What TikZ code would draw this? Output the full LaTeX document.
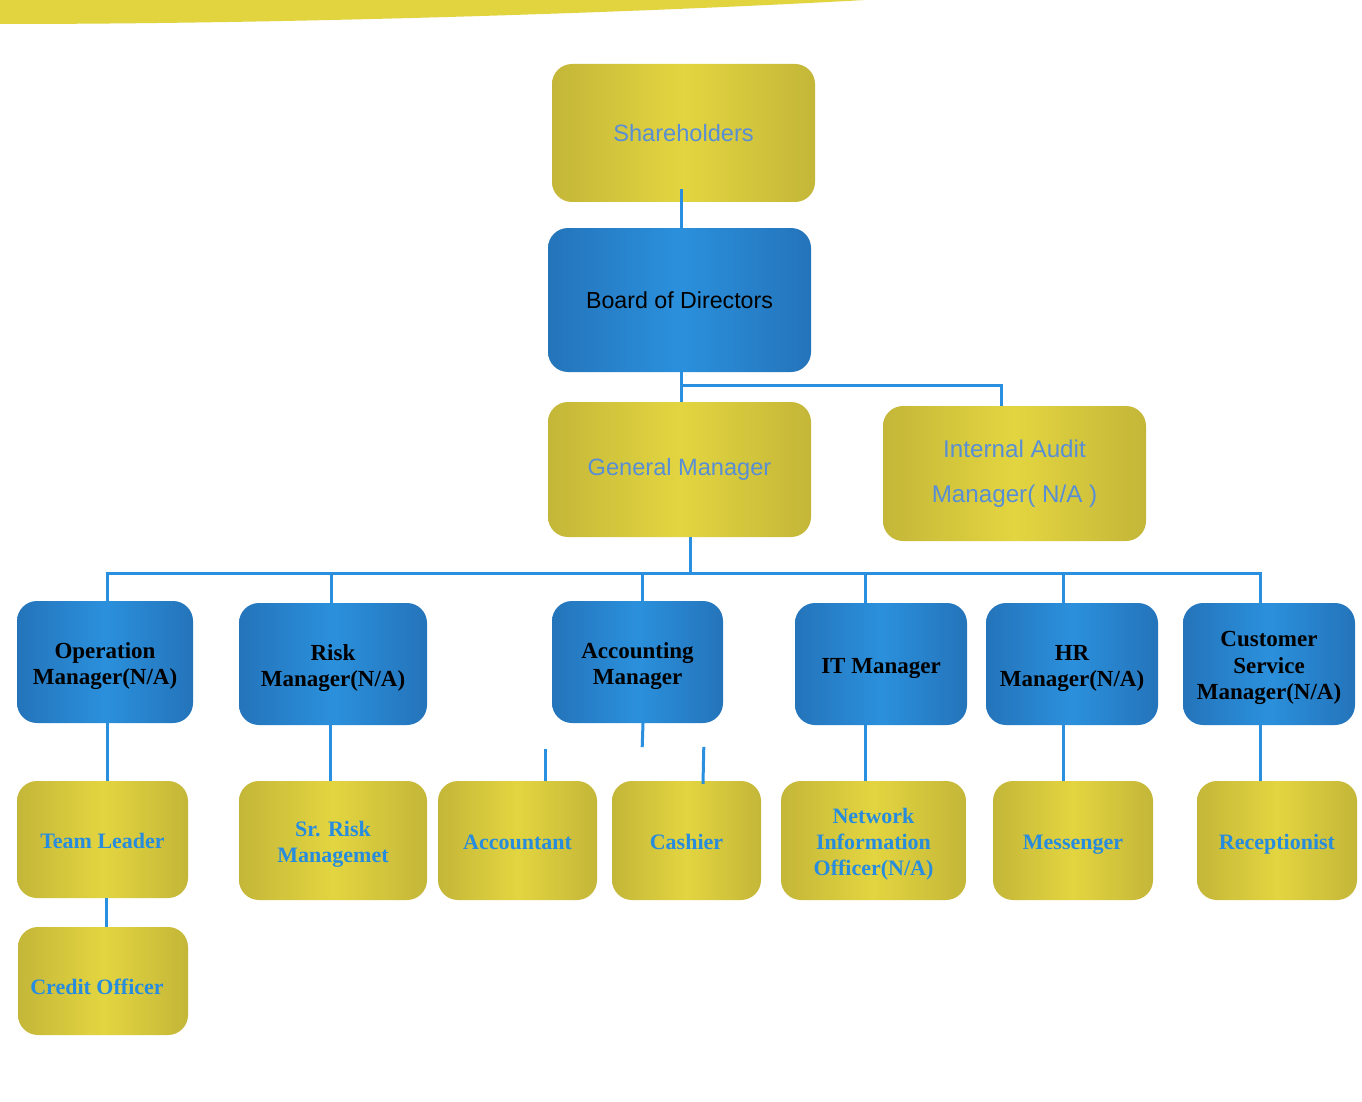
\documentclass[tikz,border=0pt]{standalone}
\usepackage{fontspec}
\setmainfont{Liberation Serif}
\setsansfont{Liberation Sans}
\definecolor{yedge}{RGB}{196,182,56}
\definecolor{ymid}{RGB}{227,213,64}
\definecolor{bedge}{RGB}{36,116,186}
\definecolor{bmid}{RGB}{43,144,220}
\definecolor{lineblue}{RGB}{42,143,222}
\definecolor{topblue}{RGB}{88,142,214}
\definecolor{lowblue}{RGB}{40,140,222}
\definecolor{arcyellow}{RGB}{225,212,62}
\newcommand{\dnlines}[2][-4pt]{\raisebox{#1}[\height][\depth]{\begin{tabular}{@{}c@{}}#2\end{tabular}}}
\begin{document}
\begin{tikzpicture}[x=1pt,y=-1pt,
  ybox/.style={rounded corners=20pt, left color=yedge, right color=yedge, middle color=ymid, inner sep=0pt, align=center},
  bbox/.style={rounded corners=20pt, left color=bedge, right color=bedge, middle color=bmid, inner sep=0pt, align=center},
  toptxt/.style={font=\sffamily\fontsize{23.6}{28}\selectfont},
  midtxt/.style={font=\bfseries\fontsize{23}{26.5}\selectfont},
  lowtxt/.style={font=\bfseries\fontsize{22}{26}\selectfont},
  conn/.style={draw=lineblue, line width=3pt}]
\useasboundingbox (0,0) rectangle (1362,1102);
\fill[white] (0,0) rectangle (1362,1102);
\fill[arcyellow] (0,0) -- (0,24) .. controls (300,24) and (650,12) .. (865,0) -- cycle;

% top levels
\node[ybox, toptxt, text=topblue, minimum width=263, minimum height=138] (sh) at (683.5,133) {Shareholders};
\node[bbox, font=\sffamily\fontsize{23.2}{28}\selectfont, text=black, minimum width=263, minimum height=144] (bod) at (679.5,300) {Board of Directors};
\node[ybox, toptxt, text=topblue, minimum width=263, minimum height=135] (gm) at (679.5,469.5) {General Manager};
\node[ybox, text=topblue, minimum width=263, minimum height=135, font=\sffamily\fontsize{24.2}{45}\selectfont] (ia) at (1014.5,473.5) {Internal Audit\\Manager( N/A )};

% managers
\node[bbox, midtxt, text=black, minimum width=176, minimum height=122] (om) at (105,662) {\dnlines{Operation\\Manager(N/A)}};
\node[bbox, midtxt, text=black, minimum width=188, minimum height=122] (rm) at (333,664) {\dnlines{Risk\\Manager(N/A)}};
\node[bbox, midtxt, text=black, minimum width=171, minimum height=122] (am) at (637.5,662) {\dnlines{Accounting\\Manager}};
\node[bbox, midtxt, text=black, minimum width=172, minimum height=122] (it) at (881,664) {\dnlines{IT Manager}};
\node[bbox, midtxt, text=black, minimum width=172, minimum height=122] (hr) at (1072,664) {\dnlines{HR\\Manager(N/A)}};
\node[bbox, midtxt, text=black, minimum width=172, minimum height=122] (cs) at (1269,664) {\dnlines{Customer\\Service\\Manager(N/A)}};

% staff
\node[ybox, lowtxt, text=lowblue, minimum width=171, minimum height=117] (tl) at (102.5,839.5) {\dnlines{Team Leader}};
\node[ybox, lowtxt, text=lowblue, minimum width=188, minimum height=119] (sr) at (333,840.5) {\dnlines{Sr. Risk\\Managemet}};
\node[ybox, lowtxt, text=lowblue, minimum width=159, minimum height=119] (acc) at (517.5,840.5) {\dnlines{Accountant}};
\node[ybox, lowtxt, text=lowblue, minimum width=149, minimum height=119] (cash) at (686.5,840.5) {\dnlines{Cashier}};
\node[ybox, lowtxt, text=lowblue, minimum width=185, minimum height=119] (nio) at (873.5,840.5) {\dnlines{Network\\Information\\Officer(N/A)}};
\node[ybox, lowtxt, text=lowblue, minimum width=160, minimum height=119] (msg) at (1073,840.5) {\dnlines{Messenger}};
\node[ybox, lowtxt, text=lowblue, minimum width=160, minimum height=119] (rec) at (1277,840.5) {\dnlines{Receptionist}};
\node[ybox, lowtxt, text=lowblue, minimum width=170, minimum height=108] (co) at (103,981) {\hspace*{-12pt}\dnlines[-8pt]{Credit Officer}};

% connectors top
\draw[conn] ([xshift=-2.5pt,yshift=13pt]sh.south) -- ([xshift=1.5pt]bod.north);
\draw[conn] ([xshift=1.5pt]bod.south) -- ([xshift=1.5pt]gm.north);
\coordinate (bj) at (681,385);
\draw[conn] (bj) -| ([xshift=-13.5pt]ia.north);
\coordinate (bus) at (0,573);
\draw[conn] ([xshift=10.5pt]gm.south) -- ([xshift=10.5pt]gm.south |- bus);
\draw[conn] ([xshift=0.5pt]om.north |- bus) -- ([xshift=156pt]om.north |- bus) -| ([xshift=-9pt]cs.north);
\draw[conn] ([xshift=2pt]om.north) -- ([xshift=2pt]om.north |- bus);
\draw[conn] ([xshift=-2pt]rm.north) -- ([xshift=-2pt]rm.north |- bus);
\draw[conn] ([xshift=4.5pt]am.north) -- ([xshift=4.5pt]am.north |- bus);
\draw[conn] ([xshift=-16pt]it.north) -- ([xshift=-16pt]it.north |- bus);
\draw[conn] ([xshift=-9pt]hr.north) -- ([xshift=-9pt]hr.north |- bus);
\draw[conn] ([xshift=-9pt]cs.north) -- ([xshift=-9pt]cs.north |- bus);

% connectors lower
\draw[conn] ([xshift=2pt]om.south) -- ([xshift=2pt]om.south |- tl.north);
\draw[conn] ([xshift=3.5pt]tl.south) -- ([xshift=3.5pt]tl.south |- co.north);
\draw[conn] ([xshift=-3pt]rm.south) -- ([xshift=-3pt]rm.south |- sr.north);
\draw[conn] ([xshift=5.5pt]am.south) -- ++(-0.8,24);
\draw[conn] ([xshift=27.5pt]acc.north) -- ++(0,-32);
\draw[conn] ([xshift=16.5pt,yshift=-3pt]cash.north) -- ++(0.8,-37);
\draw[conn] ([xshift=-16pt]it.south) -- ([xshift=-16pt]it.south |- nio.north);
\draw[conn] ([xshift=-9pt]hr.south) -- ([xshift=-9pt]hr.south |- msg.north);
\draw[conn] ([xshift=-9pt]cs.south) -- ([xshift=-9pt]cs.south |- rec.north);
\end{tikzpicture}
\end{document}
